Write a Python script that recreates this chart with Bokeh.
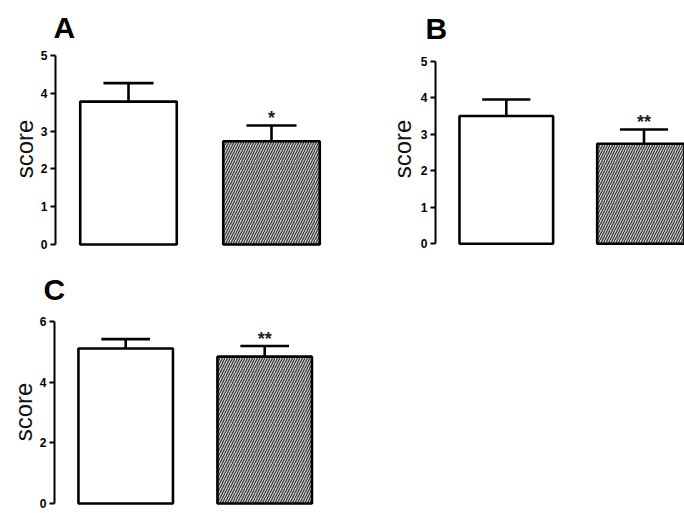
from bokeh.plotting import figure
from bokeh.models import Range1d, FixedTicker, LinearAxis, Title
from bokeh.layouts import row, column
from bokeh.core.properties import value
from bokeh.embed import file_html
from bokeh.resources import INLINE

# ---- data ----
groups = ["control", "treated"]
y_label = "score"
panel_letters = ["A", "B", "C"]

a_means = [3.78, 2.73]
a_sems = [0.49, 0.42]
a_stars = ["", "*"]
a_ticks = [0, 1, 2, 3, 4, 5]

b_means = [3.50, 2.74]
b_sems = [0.45, 0.39]
b_stars = ["", "**"]
b_ticks = [0, 1, 2, 3, 4, 5]

c_means = [5.11, 4.84]
c_sems = [0.31, 0.35]
c_stars = ["", "**"]
c_ticks = [0, 2, 4, 6]

FONT = "Liberation Sans"


def make_panel(letter, means, sems, stars, ticks, canvas, frame, xmap, ymap,
               letter_pos, label_pos, bar_w):
    cx0, cy0, cx1, cy1 = canvas          # pixel box of the canvas
    fl, fr, ft, fb = frame               # pixel box of the frame
    x1_px, px_per_x = xmap               # pixel x of category 1, px per unit
    y0_px, px_per_y = ymap               # pixel y of value 0, px per unit

    def X(px):
        return 1 + (px - x1_px) / px_per_x

    def Y(py):
        return (y0_px - py) / px_per_y

    p = figure(width=cx1 - cx0, height=cy1 - cy0,
               x_range=Range1d(X(fl), X(fr)), y_range=Range1d(Y(fb), Y(ft)),
               output_backend="svg", toolbar_location=None,
               x_axis_location=None,
               min_border_left=fl - cx0, min_border_right=cx1 - fr,
               min_border_top=ft - cy0, min_border_bottom=cy1 - fb)
    p.outline_line_color = None
    p.xgrid.visible = False
    p.ygrid.visible = False
    p.background_fill_color = "white"
    p.border_fill_color = "white"

    xs = [i + 1 for i in range(len(groups))]
    tops = [m + s for m, s in zip(means, sems)]

    # control bar (open)
    p.vbar(x=xs[:1], top=means[:1], bottom=0, width=bar_w,
           fill_color="white", line_color="black", line_width=2.6)
    # treated bar (hatched)
    p.vbar(x=xs[1:], top=means[1:], bottom=0, width=bar_w,
           fill_color="#d2d2d2", hatch_pattern="/", hatch_color="#333333",
           hatch_scale=5, hatch_weight=1.2,
           line_color="black", line_width=2.6)

    cap = 0.175
    p.segment(x0=xs, y0=means, x1=xs, y1=tops, line_color="black", line_width=2.6)
    p.segment(x0=[x - cap for x in xs], y0=tops, x1=[x + cap for x in xs], y1=tops,
              line_color="black", line_width=2.6)

    p.text(x=xs, y=tops, text=stars, text_font=value(FONT), text_font_style="bold",
           text_font_size="18px", text_align="center", text_baseline="alphabetic",
           y_offset=-7, text_color="#222222")

    ax = p.yaxis[0]
    ax.ticker = FixedTicker(ticks=ticks)
    ax.bounds = (ticks[0], ticks[-1])
    ax.axis_line_width = 2
    ax.axis_line_color = "black"
    ax.major_tick_line_width = 2
    ax.major_tick_out = 5
    ax.major_tick_in = 0
    ax.minor_tick_line_color = None
    ax.major_label_text_font = FONT
    ax.major_label_text_font_style = "bold"
    ax.major_label_text_font_size = "12px"
    ax.major_label_text_color = "black"
    ax.major_label_standoff = 3

    # second, bare axis that only carries the "score" label
    sx, sy = label_pos
    yc = Y(sy)
    lab = LinearAxis(axis_label=y_label, bounds=(yc - 1, yc + 1),
                     ticker=FixedTicker(ticks=[]))
    lab.axis_line_color = None
    lab.major_tick_line_color = None
    lab.minor_tick_line_color = None
    lab.major_tick_out = 0
    lab.major_tick_in = 0
    lab.minor_tick_out = 0
    lab.major_label_standoff = 0
    lab.axis_label_standoff = max(0, int(round((fl - sx) - 28)))
    lab.axis_label_text_font = FONT
    lab.axis_label_text_font_style = "normal"
    lab.axis_label_text_font_size = "24px"
    lab.axis_label_text_color = "#111111"
    p.add_layout(lab, "left")

    lx, ly = letter_pos
    t = Title(text=letter, align="left", offset=lx - fl,
              text_font=FONT, text_font_style="bold", text_font_size="30px",
              text_color="black", standoff=max(0, 2 * (ft - (ly + 6))))
    p.add_layout(t, "above")
    return p


pA = make_panel(panel_letters[0], a_means, a_sems, a_stars, a_ticks,
                canvas=(0, 0, 340, 258), frame=(55, 340, 50, 247),
                xmap=(128, 143), ymap=(244, 37.8),
                letter_pos=(53, 37), label_pos=(28.5, 169), bar_w=0.675)
pB = make_panel(panel_letters[1], b_means, b_sems, b_stars, b_ticks,
                canvas=(340, 0, 684, 258), frame=(435, 684, 50, 247),
                xmap=(505.8, 137.7), ymap=(243.3, 36.52),
                letter_pos=(425, 38), label_pos=(404.5, 159), bar_w=0.68)
pC = make_panel(panel_letters[2], c_means, c_sems, c_stars, c_ticks,
                canvas=(0, 258, 340, 512), frame=(54, 340, 316, 506),
                xmap=(125.2, 139), ymap=(503, 30.5),
                letter_pos=(43, 298), label_pos=(25.5, 411.5), bar_w=0.68)

layout = column(row(pA, pB), pC)
open("out.html", "w").write(file_html(layout, INLINE))
